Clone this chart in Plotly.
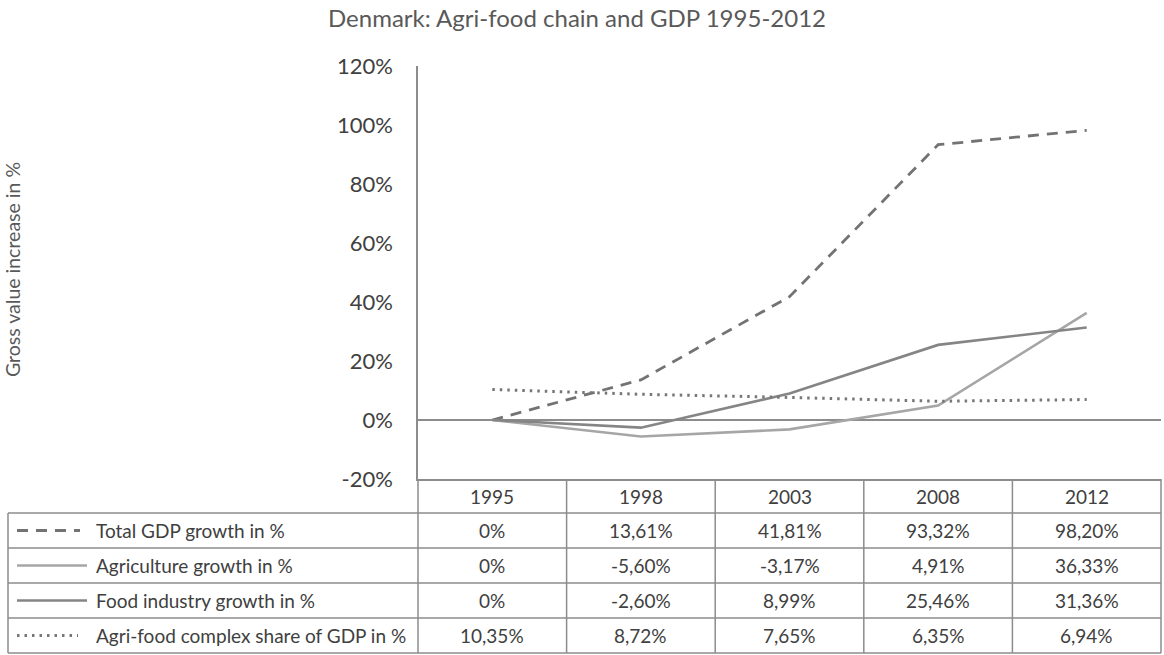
import plotly.graph_objects as go

# ---- data ----
years = ["1995", "1998", "2003", "2008", "2012"]
series_names = [
    "Total GDP growth in %",
    "Agriculture growth in %",
    "Food industry growth in %",
    "Agri-food complex share of GDP in %",
]
gdp_growth = [0.0, 13.61, 41.81, 93.32, 98.20]
agri_growth = [0.0, -5.60, -3.17, 4.91, 36.33]
food_growth = [0.0, -2.60, 8.99, 25.46, 31.36]
agrifood_share = [10.35, 8.72, 7.65, 6.35, 6.94]
table_labels = [
    ["0%", "13,61%", "41,81%", "93,32%", "98,20%"],
    ["0%", "-5,60%", "-3,17%", "4,91%", "36,33%"],
    ["0%", "-2,60%", "8,99%", "25,46%", "31,36%"],
    ["10,35%", "8,72%", "7,65%", "6,35%", "6,94%"],
]
y_ticks = [-20, 0, 20, 40, 60, 80, 100, 120]

# ---- styles ----
FONT = "Lato, 'Open Sans', sans-serif"
W, H = 1164, 655
L, R, T, B = 418, 1161, 66, 479  # plot area in pixels
styles = [
    dict(color="#737373", width=2.8, dash="11px,8px"),
    dict(color="#A6A6A6", width=2.6, dash="solid"),
    dict(color="#858585", width=2.6, dash="solid"),
    dict(color="#777777", width=3, dash="2.5px,5px"),
]
series = [gdp_growth, agri_growth, food_growth, agrifood_share]
GRID = "#8C8C8C"
TXT = "#404040"
TABLE_FS = 19


def px(xp):
    return (xp - L) / (R - L)


def py(yp):
    return (B - yp) / (B - T)


fig = go.Figure()
for name, vals, st in zip(series_names, series, styles):
    fig.add_trace(go.Scatter(x=years, y=vals, mode="lines", name=name,
                             line=st, showlegend=False, cliponaxis=False))

shapes = []
annotations = []

# table geometry
row_edges = [479, 513, 548, 583, 618, 653]
col_edges_px = [L + i * (R - L) / 5 for i in range(6)]
left_px = 8

for ye in row_edges[1:]:
    shapes.append(dict(type="line", xref="paper", yref="paper", x0=px(left_px), x1=px(R),
                       y0=py(ye), y1=py(ye), line=dict(color=GRID, width=1.5)))
for xe in col_edges_px:
    shapes.append(dict(type="line", xref="paper", yref="paper", x0=px(xe), x1=px(xe),
                       y0=py(row_edges[0]), y1=py(row_edges[-1]), line=dict(color=GRID, width=1.5)))
shapes.append(dict(type="line", xref="paper", yref="paper", x0=px(left_px), x1=px(left_px),
                   y0=py(row_edges[1]), y1=py(row_edges[-1]), line=dict(color=GRID, width=1.5)))

# header text
for i, yr in enumerate(years):
    annotations.append(dict(x=i, y=py((row_edges[0] + row_edges[1]) / 2), xref="x", yref="paper",
                            text=yr, showarrow=False, xanchor="center", yanchor="middle",
                            font=dict(family=FONT, size=TABLE_FS, color=TXT)))

# rows
sample_ends = [80, 87, 87, 78]
for r, (name, labels, st) in enumerate(zip(series_names, table_labels, styles)):
    yc = (row_edges[r + 1] + row_edges[r + 2]) / 2
    for i, lab in enumerate(labels):
        annotations.append(dict(x=i, y=py(yc), xref="x", yref="paper", text=lab, showarrow=False,
                                xanchor="center", yanchor="middle",
                                font=dict(family=FONT, size=TABLE_FS, color=TXT)))
    annotations.append(dict(x=px(94), y=py(yc), xref="paper", yref="paper", text=name,
                            showarrow=False, xanchor="left", yanchor="middle",
                            font=dict(family=FONT, size=TABLE_FS, color=TXT)))
    shapes.append(dict(type="line", xref="paper", yref="paper", x0=px(17), x1=px(sample_ends[r]),
                       y0=py(yc), y1=py(yc), line=st))

# title
annotations.append(dict(x=px(577), y=py(17), xref="paper", yref="paper",
                        text="Denmark: Agri-food chain and GDP 1995-2012", showarrow=False,
                        xanchor="center", yanchor="middle",
                        font=dict(family=FONT, size=24, color="#595959")))
# y-axis title
annotations.append(dict(x=px(12), y=py(270), xref="paper", yref="paper",
                        text="Gross value increase in %", showarrow=False, textangle=-90,
                        xanchor="center", yanchor="middle",
                        font=dict(family=FONT, size=19.5, color="#595959")))

fig.update_layout(
    width=W, height=H, autosize=False,
    margin=dict(l=L, r=W - R, t=T, b=H - B, pad=0),
    paper_bgcolor="white", plot_bgcolor="white",
    shapes=shapes, annotations=annotations,
    xaxis=dict(type="category", range=[-0.5, 4.5], showticklabels=False, showgrid=False,
               zeroline=False, showline=True, linecolor=GRID, linewidth=1.5, ticks=""),
    yaxis=dict(range=[-20, 120], tickvals=y_ticks, ticktext=[f"{v}%" for v in y_ticks],
               showgrid=False, zeroline=True, zerolinecolor=GRID, zerolinewidth=2,
               showline=True, linecolor=GRID, linewidth=1.5, ticks="",
               ticklabelstandoff=19,
               tickfont=dict(family=FONT, size=22, color="#404040")),
)

fig.write_html("out.html", config={"displayModeBar": False},
               post_script="document.body.style.margin='0';")
